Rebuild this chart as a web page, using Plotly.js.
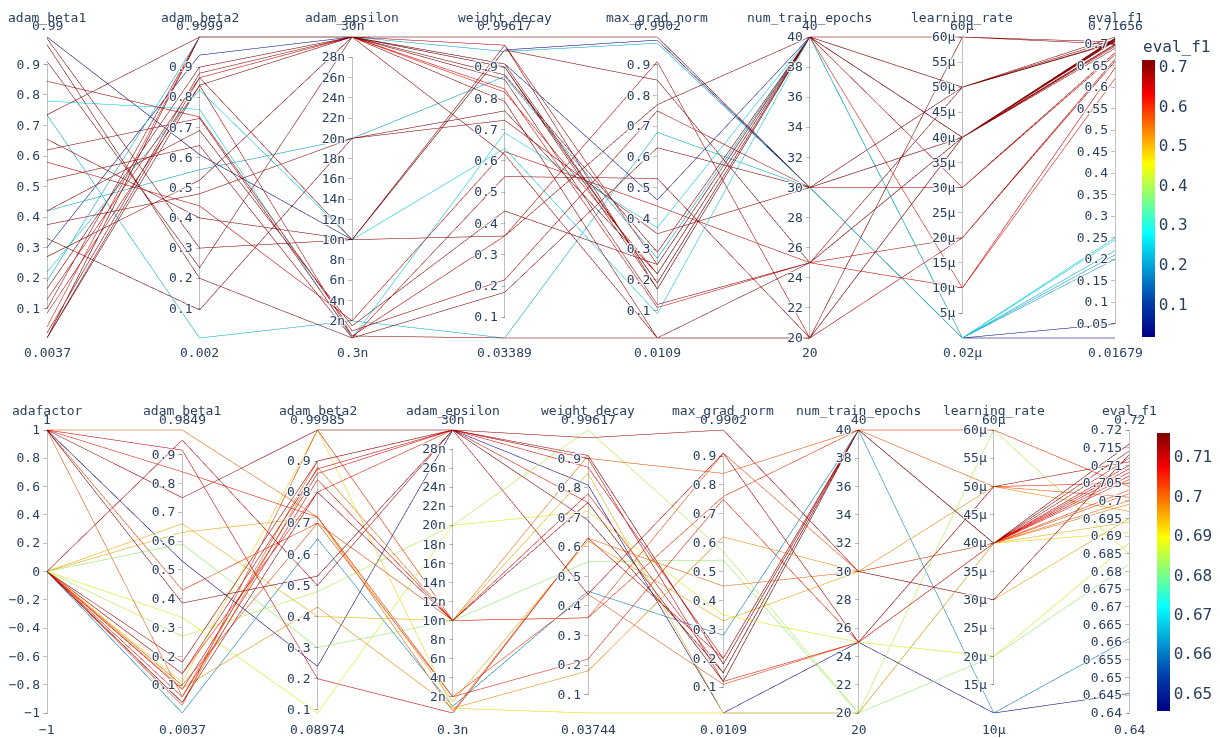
<!DOCTYPE html>
<html>
<head>
<meta charset="utf-8">
<script src="https://cdn.plot.ly/plotly-3.0.1.min.js"></script>
<style>html,body{margin:0;padding:0;background:#fff;}#top{width:1220px;height:390px;}#bot{width:1220px;height:348px;}</style>
</head>
<body>
<div id="top"></div>
<div id="bot"></div>
<script>
// ---------- Top study ----------
const top_adam_beta1 = [0.99, 0.30, 0.78, 0.735, 0.42, 0.22, 0.19, 0.735, 0.985, 0.965, 0.91, 0.845, 0.655, 0.62, 0.58, 0.52, 0.42, 0.375, 0.33, 0.27, 0.165, 0.13, 0.10, 0.085, 0.04, 0.02, 0.0037, 0.0037, 0.0037, 0.0037];
const top_adam_beta2 = [0.61, 0.94, 0.76, 0.002, 0.56, 0.825, 0.9999, 0.9999, 0.30, 0.20, 0.235, 0.735, 0.40, 0.73, 0.44, 0.64, 0.69, 0.48, 0.095, 0.525, 0.90, 0.865, 0.9999, 0.84, 0.9999, 0.88, 0.865, 0.9999, 0.84, 0.9999];
const top_adam_epsilon = [1e-8, 3e-8, 3e-10, 2e-9, 2e-8, 1e-8, 3e-8, 3e-8, 1e-8, 3e-10, 3e-8, 1e-9, 1e-8, 5e-10, 2e-9, 3e-10, 1.5e-9, 2e-8, 2e-8, 3e-8, 3e-8, 3e-8, 3e-8, 5e-10, 3e-8, 3e-8, 1e-8, 3e-8, 3e-8, 3e-8];
const top_weight_decay = [0.955, 0.91, 0.69, 0.03389, 0.87, 0.64, 0.95, 0.99617, 0.36, 0.18, 0.90, 0.22, 0.97, 0.03389, 0.63, 0.55, 0.44, 0.73, 0.76, 0.875, 0.86, 0.83, 0.79, 0.36, 0.82, 0.91, 0.955, 0.62, 0.90, 0.97];
const top_max_grad_norm = [0.98, 0.46, 0.37, 0.68, 0.27, 0.09, 0.97, 0.9902, 0.77, 0.63, 0.19, 0.75, 0.17, 0.0109, 0.44, 0.53, 0.25, 0.35, 0.22, 0.29, 0.12, 0.11, 0.0109, 0.91, 0.22, 0.19, 0.85, 0.0109, 0.17, 0.25];
const top_num_train_epochs = [30, 40, 40, 30, 40, 40, 30, 30, 40, 30, 40, 30, 40, 20, 25, 20, 40, 30, 40, 40, 25, 25, 25, 20, 40, 40, 25, 20, 40, 40];
const top_learning_rate = [2e-8, 2e-8, 2e-8, 2e-8, 2e-8, 2e-8, 2e-8, 5e-5, 6e-5, 4e-5, 4e-5, 3e-5, 4e-5, 6e-5, 2e-5, 4e-5, 4e-5, 4e-5, 5e-5, 4e-5, 4e-5, 1e-5, 5e-5, 2e-5, 1e-5, 5e-5, 4e-5, 4e-5, 4e-5, 3e-5];
const top_eval_f1 = [0.01679, 0.05, 0.25, 0.22, 0.20, 0.245, 0.21, 0.71656, 0.705, 0.71, 0.712, 0.68, 0.708, 0.70, 0.66, 0.69, 0.70, 0.695, 0.71, 0.713, 0.707, 0.645, 0.703, 0.665, 0.62, 0.705, 0.711, 0.698, 0.714, 0.675];

// ---------- Bottom study ----------
const bot_adafactor = [0, 0, 0, 0, 0, 0, 0, 0, 1, 1, 1, 1, 1, 1, 1, 0, 0, 0, 0, 0, 0, 0, 0, 1, 0, 0];
const bot_adam_beta1 = [0.27, 0.59, 0.335, 0.11, 0.09, 0.63, 0.66, 0.0037, 0.53, 0.9849, 0.915, 0.84, 0.75, 0.43, 0.385, 0.95, 0.18, 0.14, 0.085, 0.06, 0.04, 0.03, 0.10, 0.06, 0.04, 0.14];
const bot_adam_beta2 = [0.48, 0.30, 0.08974, 0.99985, 0.43, 0.72, 0.40, 0.65, 0.24, 0.72, 0.20, 0.72, 0.99985, 0.70, 0.53, 0.50, 0.90, 0.875, 0.86, 0.84, 0.80, 0.99985, 0.70, 0.90, 0.88, 0.80];
const bot_adam_epsilon = [2e-8, 1e-8, 2e-8, 8e-10, 8e-10, 1.5e-9, 1e-8, 1e-9, 3e-8, 5e-10, 3e-10, 2e-9, 3e-8, 2e-9, 3e-8, 3e-8, 3e-8, 3e-8, 3e-8, 1e-8, 1e-8, 1e-8, 1e-8, 3e-8, 1e-8, 3e-8];
const bot_weight_decay = [0.99617, 0.55, 0.72, 0.03744, 0.18, 0.62, 0.85, 0.45, 0.81, 0.63, 0.63, 0.22, 0.97, 0.44, 0.69, 0.44, 0.91, 0.90, 0.87, 0.78, 0.75, 0.36, 0.36, 0.90, 0.91, 0.75];
const bot_max_grad_norm = [0.57, 0.54, 0.35, 0.0109, 0.62, 0.33, 0.0109, 0.28, 0.0109, 0.45, 0.20, 0.75, 0.9902, 0.11, 0.15, 0.91, 0.18, 0.12, 0.20, 0.15, 0.12, 0.76, 0.91, 0.84, 0.18, 0.12];
const bot_num_train_epochs = [20, 20, 25, 20, 30, 30, 20, 40, 25, 30, 40, 25, 30, 25, 40, 25, 40, 40, 40, 40, 40, 40, 30, 40, 40, 25];
const bot_learning_rate = [6e-5, 2e-5, 2e-5, 4e-5, 5e-5, 3e-5, 4e-5, 1e-5, 1e-5, 4e-5, 4e-5, 5e-5, 3e-5, 4e-5, 4e-5, 5e-5, 4e-5, 4e-5, 4e-5, 4e-5, 4e-5, 6e-5, 4e-5, 5e-5, 4e-5, 4e-5];
const bot_eval_f1 = [0.685, 0.682, 0.688, 0.691, 0.697, 0.695, 0.694, 0.661, 0.6455, 0.70, 0.709, 0.705, 0.713, 0.703, 0.716, 0.711, 0.712, 0.710, 0.708, 0.707, 0.714, 0.704, 0.702, 0.701, 0.699, 0.706];

// ---------- Axis names and range (extreme) labels ----------
const topNames = ['adam_beta1', 'adam_beta2', 'adam_epsilon', 'weight_decay', 'max_grad_norm', 'num_train_epochs', 'learning_rate', 'eval_f1'];
const topMaxText = ['0.99', '0.9999', '30n', '0.99617', '0.9902', '40', '60µ', '0.71656'];
const topMinText = ['0.0037', '0.002', '0.3n', '0.03389', '0.0109', '20', '0.02µ', '0.01679'];
const botNames = ['adafactor', 'adam_beta1', 'adam_beta2', 'adam_epsilon', 'weight_decay', 'max_grad_norm', 'num_train_epochs', 'learning_rate', 'eval_f1'];
const botMaxText = ['1', '0.9849', '0.99985', '30n', '0.99617', '0.9902', '40', '60µ', '0.72'];
const botMinText = ['−1', '0.0037', '0.08974', '0.3n', '0.03744', '0.0109', '20', '10µ', '0.64'];
const colorbarTitle = 'eval_f1';

// ---------- Tick labels ----------
const ticks_tenths = [0.1, 0.2, 0.3, 0.4, 0.5, 0.6, 0.7, 0.8, 0.9];
const ticks_tenths_text = ['0.1', '0.2', '0.3', '0.4', '0.5', '0.6', '0.7', '0.8', '0.9'];
const ticks_eps = [2e-9, 4e-9, 6e-9, 8e-9, 1e-8, 1.2e-8, 1.4e-8, 1.6e-8, 1.8e-8, 2e-8, 2.2e-8, 2.4e-8, 2.6e-8, 2.8e-8];
const ticks_eps_text = ['2n', '4n', '6n', '8n', '10n', '12n', '14n', '16n', '18n', '20n', '22n', '24n', '26n', '28n'];
const ticks_epochs = [20, 22, 24, 26, 28, 30, 32, 34, 36, 38, 40];
const ticks_epochs_text = ['20', '22', '24', '26', '28', '30', '32', '34', '36', '38', '40'];
const ticks_lr_top = [5e-6, 1e-5, 1.5e-5, 2e-5, 2.5e-5, 3e-5, 3.5e-5, 4e-5, 4.5e-5, 5e-5, 5.5e-5, 6e-5];
const ticks_lr_top_text = ['5µ', '10µ', '15µ', '20µ', '25µ', '30µ', '35µ', '40µ', '45µ', '50µ', '55µ', '60µ'];
const ticks_lr_bot = [1.5e-5, 2e-5, 2.5e-5, 3e-5, 3.5e-5, 4e-5, 4.5e-5, 5e-5, 5.5e-5, 6e-5];
const ticks_lr_bot_text = ['15µ', '20µ', '25µ', '30µ', '35µ', '40µ', '45µ', '50µ', '55µ', '60µ'];
const ticks_f1_top = [0.05, 0.1, 0.15, 0.2, 0.25, 0.3, 0.35, 0.4, 0.45, 0.5, 0.55, 0.6, 0.65, 0.7];
const ticks_f1_top_text = ['0.05', '0.1', '0.15', '0.2', '0.25', '0.3', '0.35', '0.4', '0.45', '0.5', '0.55', '0.6', '0.65', '0.7'];
const ticks_f1_bot = [0.64, 0.645, 0.65, 0.655, 0.66, 0.665, 0.67, 0.675, 0.68, 0.685, 0.69, 0.695, 0.7, 0.705, 0.71, 0.715, 0.72];
const ticks_f1_bot_text = ['0.64', '0.645', '0.65', '0.655', '0.66', '0.665', '0.67', '0.675', '0.68', '0.685', '0.69', '0.695', '0.7', '0.705', '0.71', '0.715', '0.72'];
const ticks_ada = [-1, -0.8, -0.6, -0.4, -0.2, 0, 0.2, 0.4, 0.6, 0.8, 1];
const ticks_ada_text = ['−1', '−0.8', '−0.6', '−0.4', '−0.2', '0', '0.2', '0.4', '0.6', '0.8', '1'];

const topDims = [
  {label: '', values: top_adam_beta1, tickvals: ticks_tenths, ticktext: ticks_tenths_text},
  {label: '', values: top_adam_beta2, tickvals: ticks_tenths, ticktext: ticks_tenths_text},
  {label: '', values: top_adam_epsilon, tickvals: ticks_eps, ticktext: ticks_eps_text},
  {label: '', values: top_weight_decay, tickvals: ticks_tenths, ticktext: ticks_tenths_text},
  {label: '', values: top_max_grad_norm, tickvals: ticks_tenths, ticktext: ticks_tenths_text},
  {label: '', values: top_num_train_epochs, tickvals: ticks_epochs, ticktext: ticks_epochs_text},
  {label: '', values: top_learning_rate, tickvals: ticks_lr_top, ticktext: ticks_lr_top_text},
  {label: '', values: top_eval_f1, tickvals: ticks_f1_top, ticktext: ticks_f1_top_text}
];
const botDims = [
  {label: '', values: bot_adafactor, range: [-1, 1], tickvals: ticks_ada, ticktext: ticks_ada_text},
  {label: '', values: bot_adam_beta1, tickvals: ticks_tenths, ticktext: ticks_tenths_text},
  {label: '', values: bot_adam_beta2, tickvals: ticks_tenths, ticktext: ticks_tenths_text},
  {label: '', values: bot_adam_epsilon, tickvals: ticks_eps, ticktext: ticks_eps_text},
  {label: '', values: bot_weight_decay, tickvals: ticks_tenths, ticktext: ticks_tenths_text},
  {label: '', values: bot_max_grad_norm, tickvals: ticks_tenths, ticktext: ticks_tenths_text},
  {label: '', values: bot_num_train_epochs, tickvals: ticks_epochs, ticktext: ticks_epochs_text},
  {label: '', values: bot_learning_rate, tickvals: ticks_lr_bot, ticktext: ticks_lr_bot_text},
  {label: '', values: bot_eval_f1, range: [0.64, 0.72], tickvals: ticks_f1_bot, ticktext: ticks_f1_bot_text}
];

const W = 1220, L = 47, R = 50;
const pw = W - L - R;
const fx = px => (px - L) / pw;
const font = {family: 'DejaVu Sans Mono, monospace', size: 16, color: '#2a3f5f'};
const smallFont = {family: font.family, size: 13, color: '#2a3f5f'};

function rowAnnotations(texts, x1px, fy, py) {
  const x0 = 0, x1 = fx(x1px);
  return texts.map((t, i) => ({
    text: t, xref: 'paper', yref: 'paper', showarrow: false,
    x: x0 + i * (x1 - x0) / (texts.length - 1), y: fy(py), xanchor: 'center', yanchor: 'middle',
    font: smallFont
  }));
}

// ----- top figure (page y 0..390) -----
(function () {
  const H = 390, T = 35, B = 50;
  const fy = py => (H - B - py) / (H - T - B);
  Plotly.newPlot('top', [{
    type: 'parcoords',
    domain: {x: [0, fx(1115)], y: [0, 1]},
    dimensions: topDims,
    line: {
      color: top_eval_f1, colorscale: 'Jet', showscale: true,
      colorbar: {thickness: 13, xanchor: 'left', x: fx(1142), xpad: 0,
                 yanchor: 'top', y: fy(60), len: (337 - 60) / (H - T - B), ypad: 0, outlinewidth: 0}
    }
  }], {
    width: W, height: H, margin: {l: L, r: R, t: T, b: B}, font: font,
    paper_bgcolor: '#fff', plot_bgcolor: '#fff',
    annotations: [].concat(
      rowAnnotations(topNames, 1115, fy, 17),
      rowAnnotations(topMaxText, 1115, fy, 26),
      rowAnnotations(topMinText, 1115, fy, 352),
      [{text: colorbarTitle, xref: 'paper', yref: 'paper', showarrow: false, x: fx(1141), y: fy(46),
        xanchor: 'left', yanchor: 'middle', font: font}])
  }, {displayModeBar: false, staticPlot: true});
})();

// ----- bottom figure (page y 390..738) -----
(function () {
  const H = 348, T = 38, B = 23, off = 390;
  const fy = py => (H - B - (py - off)) / (H - T - B);
  Plotly.newPlot('bot', [{
    type: 'parcoords',
    domain: {x: [0, fx(1130)], y: [0, 1]},
    dimensions: botDims,
    line: {
      color: bot_eval_f1, colorscale: 'Jet', showscale: true,
      colorbar: {thickness: 13, xanchor: 'left', x: fx(1157), xpad: 0,
                 yanchor: 'top', y: fy(433), len: (711 - 433) / (H - T - B), ypad: 0, outlinewidth: 0}
    }
  }], {
    width: W, height: H, margin: {l: L, r: R, t: T, b: B}, font: font,
    paper_bgcolor: '#fff', plot_bgcolor: '#fff',
    annotations: [].concat(
      rowAnnotations(botNames, 1130, fy, 410),
      rowAnnotations(botMaxText, 1130, fy, 419),
      rowAnnotations(botMinText, 1130, fy, 729))
  }, {displayModeBar: false, staticPlot: true});
})();
</script>
</body>
</html>
